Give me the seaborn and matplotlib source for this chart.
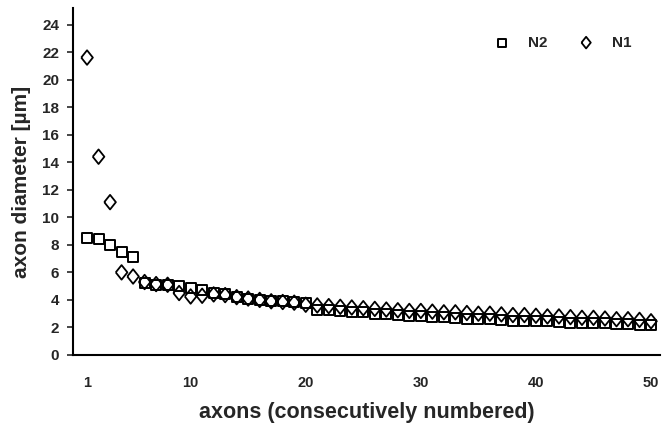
import numpy as np
import pandas as pd
import matplotlib
matplotlib.use("Agg")
import matplotlib.pyplot as plt
import seaborn as sns

# ---- data -------------------------------------------------------------
axons = list(range(1, 51))
n2 = [8.5, 8.4, 8.0, 7.5, 7.15, 5.2, 5.1, 5.1, 5.0, 4.9,
      4.7, 4.5, 4.4, 4.2, 4.1, 4.0, 3.95, 3.9, 3.85, 3.8,
      3.3, 3.25, 3.2, 3.15, 3.1, 3.0, 2.95, 2.9, 2.85, 2.8,
      2.75, 2.75, 2.7, 2.65, 2.6, 2.6, 2.55, 2.5, 2.5, 2.45,
      2.45, 2.4, 2.35, 2.35, 2.3, 2.3, 2.25, 2.25, 2.2, 2.15]
n1 = [21.6, 14.4, 11.1, 6.0, 5.7, 5.3, 5.15, 5.1, 4.5, 4.25,
      4.3, 4.4, 4.35, 4.2, 4.1, 4.0, 3.9, 3.85, 3.8, 3.65,
      3.6, 3.55, 3.5, 3.45, 3.4, 3.35, 3.3, 3.25, 3.2, 3.2,
      3.15, 3.1, 3.1, 3.05, 3.0, 3.0, 2.95, 2.9, 2.9, 2.85,
      2.8, 2.8, 2.75, 2.7, 2.7, 2.65, 2.6, 2.6, 2.55, 2.45]
series_names = ["N2", "N1"]
xticks = [1, 10, 20, 30, 40, 50]
yticks = list(range(0, 25, 2))

df = pd.DataFrame({"axon": axons, "N2": n2, "N1": n1})

# ---- style ------------------------------------------------------------
sns.set_theme(style="ticks")
plt.rcParams["font.family"] = ["Liberation Sans", "DejaVu Sans"]
plt.rcParams["font.weight"] = "bold"

fig = plt.figure(figsize=(6.62, 4.24), dpi=100)
ax = fig.add_axes([73 / 662, 69 / 424, 587 / 662, 347 / 424])

diamond = [(-0.4, 0), (0, 0.5), (0.4, 0), (0, -0.5), (-0.4, 0)]

sns.scatterplot(data=df, x="axon", y="N2", ax=ax, marker="s", s=52,
                facecolor="none", edgecolor="black", linewidth=1.4,
                label=series_names[0])
sns.scatterplot(data=df, x="axon", y="N1", ax=ax, marker=diamond, s=110,
                facecolor="none", edgecolor="black", linewidth=1.3,
                label=series_names[1])

ax.set_xlim(-0.22, 50.78)
ax.set_ylim(0, 25.2)
ax.set_xticks(xticks)
ax.set_yticks(yticks)
ax.tick_params(axis="x", length=0, pad=15, labelsize=10.5)
ax.tick_params(axis="y", length=4, width=1.2, pad=6, labelsize=11)
for lab in ax.get_xticklabels() + ax.get_yticklabels():
    lab.set_fontweight("bold")

sns.despine(ax=ax, top=True, right=True)
ax.spines["left"].set_linewidth(1.5)
ax.spines["bottom"].set_linewidth(1.5)
ax.spines["left"].set_color("black")
ax.spines["bottom"].set_color("black")

ax.set_xlabel("axons (consecutively numbered)", fontsize=15.5, fontweight="bold",
              labelpad=9)
ax.set_ylabel("axon diameter [µm]", fontsize=15, fontweight="bold", labelpad=8)

leg = ax.legend(loc="upper right", bbox_to_anchor=(0.975, 0.96), ncol=2,
                frameon=False, fontsize=11, handletextpad=0.7,
                columnspacing=1.5, markerscale=0.8)
for t in leg.get_texts():
    t.set_fontweight("bold")

fig.savefig("out.png", dpi=100)
